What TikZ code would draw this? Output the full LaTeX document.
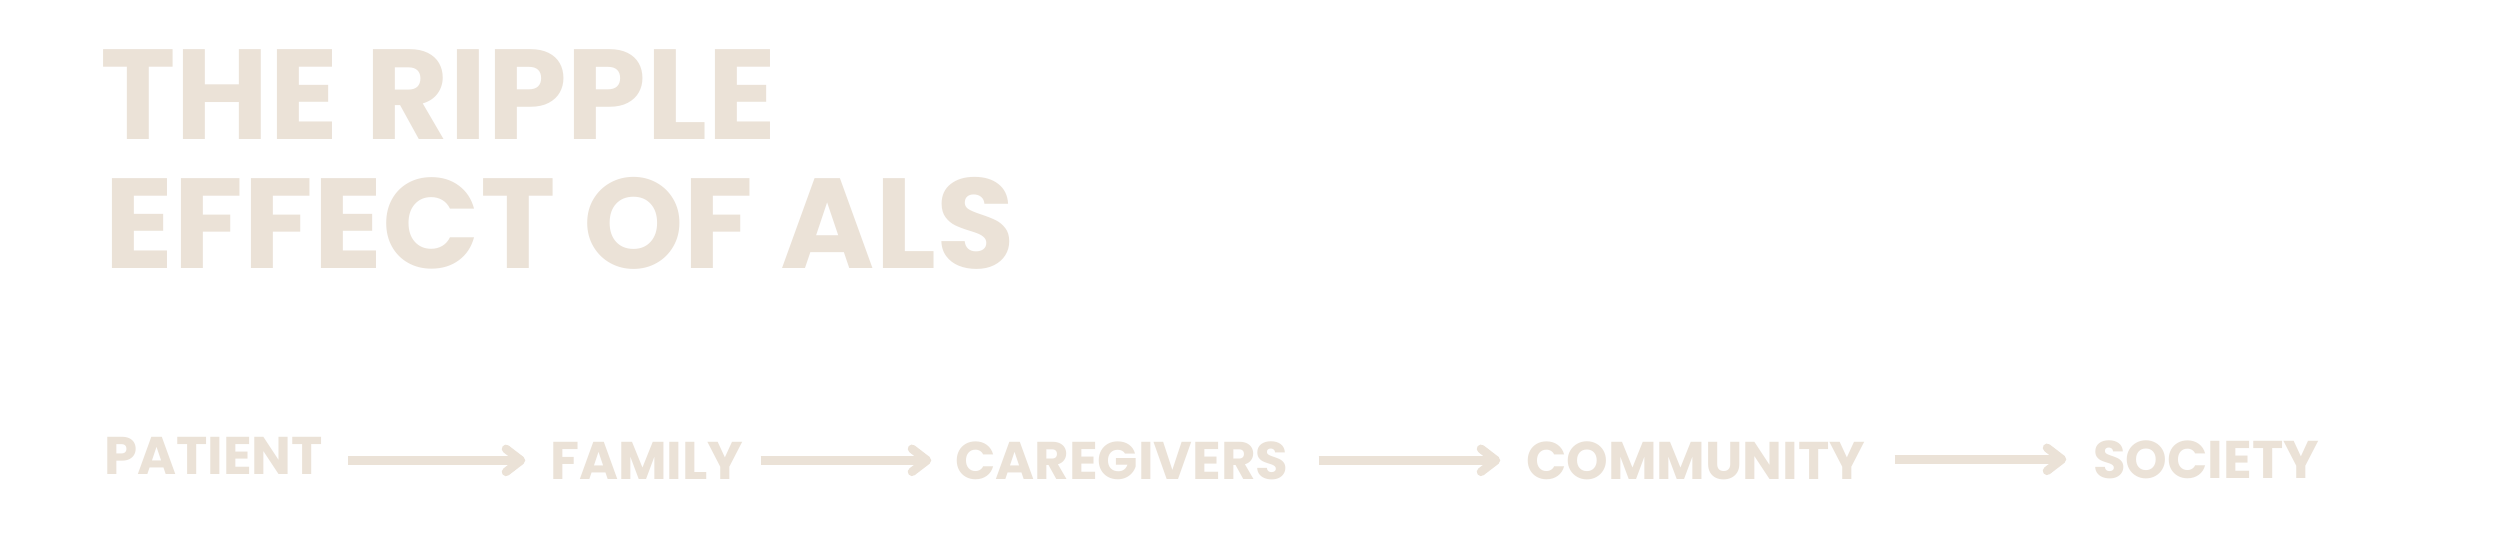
\documentclass[tikz,border=0pt]{standalone}
\usepackage{fontspec}
\setmainfont{Poppins}
\definecolor{sand}{HTML}{EBE2D7}
\newcommand\flowarrow[4]{%
  \draw[flowline] ([xshift=#3]#1.east |- #2.west) -- ([xshift=-#4-3]#2.west);
  \draw[flowhead] ([xshift=-#4-15, yshift=11.5]#2.west) -- ([xshift=-#4]#2.west) -- ([xshift=-#4-15, yshift=-11.5]#2.west);}
\begin{document}
\begin{tikzpicture}[x=1pt,y=-1pt,
  title/.style={inner sep=0pt, anchor=base west, text=sand, font=\fontsize{128}{128}\selectfont\bfseries},
  stage/.style={inner sep=0pt, anchor=base west, text=sand, font=\fontsize{53}{53}\selectfont\bfseries},
  flowline/.style={draw=sand, line width=8.5pt},
  flowhead/.style={draw=sand, line width=8.5pt, line cap=round, line join=round}]
\fill[white] (0,0) rectangle (2499,552);
\useasboundingbox (0,0) rectangle (2499,552);
\node[title] (t1) at (100,139) {THE RIPPLE};
\node[title] (t2) at (104,268) {EFFECT OF ALS};
\node[stage] (patient) at (104,474) {PATIENT};
\node[stage] (family) at (550,479) {FAMILY};
\node[stage] (care) at (955,479) {CAREGIVERS};
\node[stage] (comm) at (1526,479) {COMMUNITY};
\node[stage] (soc) at (2093,478) {SOCIETY};
\flowarrow{patient}{family}{25}{29}
\flowarrow{family}{care}{17}{28}
\flowarrow{care}{comm}{30}{30}
\flowarrow{comm}{soc}{29}{31}
\end{tikzpicture}
\end{document}
